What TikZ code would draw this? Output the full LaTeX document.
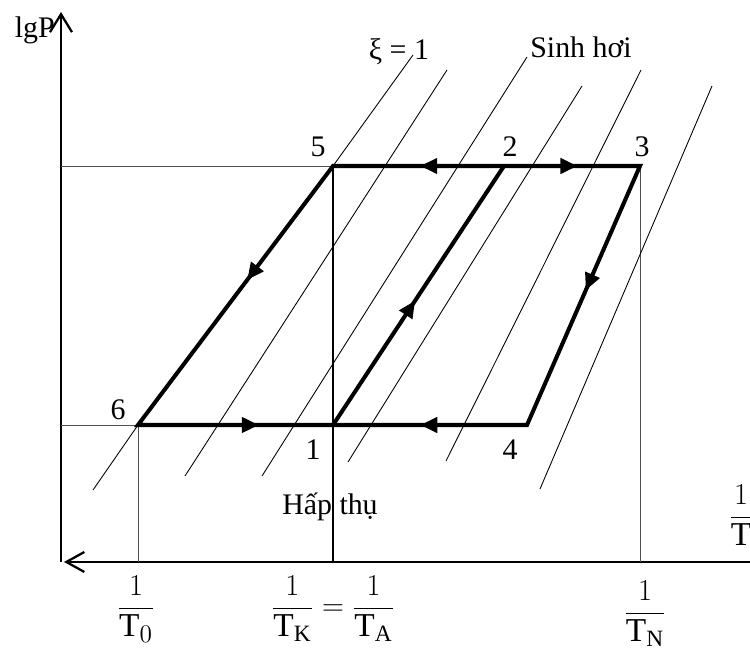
\documentclass[tikz,border=0pt]{standalone}
\usepackage{amsmath}
\usepackage{fontspec}
\setmainfont{Liberation Serif}
\usetikzlibrary{arrows.meta,decorations.markings}
\definecolor{GuideGray}{RGB}{80,80,80}

\begin{document}
\begin{tikzpicture}[x=1cm,y=1cm,
    axis/.style={line width=1.3pt},
    cyc/.style={line width=2.3pt,line join=miter},
    isoline/.style={line width=0.5pt},
    guide/.style={line width=0.55pt,GuideGray},
    midarrow/.style={postaction={decorate},decoration={markings,
      mark=at position #1 with {\arrow{Triangle[length=0.34cm,width=0.3cm]}}}},
    lbl/.style={font=\fontsize{17}{20}\selectfont,inner sep=0pt,anchor=base},
    fraclbl/.style={font=\fontsize{19}{23}\selectfont,inner sep=0pt,anchor=base}]
  \useasboundingbox (-1.22,-1.86) rectangle (13.78,11.24);
  \coordinate (O) at (0,0);
  \coordinate (ytop) at (0,11.0);
  \coordinate (xtip) at (0.06,0);
  \coordinate (xend) at (13.78,0);
  \draw[axis,-{Straight Barb[length=0.36cm,width=0.44cm]}] (O) -- (ytop);
  \draw[axis,-{Straight Barb[length=0.36cm,width=0.4cm]}] (xend) -- (xtip);
  \coordinate (p6) at (1.54,2.74);
  \coordinate (p1) at (5.44,2.74);
  \coordinate (p4) at (9.32,2.74);
  \coordinate (p5) at (5.44,7.92);
  \coordinate (p2) at (8.86,7.92);
  \coordinate (p3) at (11.58,7.92);
  \draw[guide] (O |- p5) -- (p5);
  \draw[guide] (O |- p6) -- (p6) -- (p6 |- O);
  \draw[guide] (p3) -- (p3 |- O);
  \draw[line width=0.9pt] (p5) -- (p5 |- O);
  \draw[isoline] (0.64,1.44) -- (p6) (p5) -- (7.04,10.14);
  \foreach \xa/\ya/\xb/\yb in {2.48/1.72/7.72/9.84, 4.02/1.72/9.32/10.10,
      5.74/2.00/10.42/9.52, 7.70/2.02/11.60/9.84, 9.58/1.46/13.02/9.52}
    \draw[isoline] (\xa,\ya) -- (\xb,\yb);
  \draw[cyc] (p6) -- (p4) -- (p3) -- (p5) -- cycle;
  \draw[cyc] (p1) -- (p2);
  \foreach \s/\e/\p in {p6/p1/0.62, p4/p1/0.55, p2/p5/0.49, p2/p3/0.54,
      p5/p6/0.44, p1/p2/0.48, p3/p4/0.48}
    \path[cyc,midarrow=\p] (\s) -- (\e);
  \node[lbl] (n5) at (5.14,8.10) {5};
  \node[lbl] (n2) at (8.98,8.10) {2};
  \node[lbl] (n3) at (11.62,8.10) {3};
  \node[lbl] (n6) at (1.14,2.84) {6};
  \node[lbl] (n1) at (5.04,2.04) {1};
  \node[lbl] (n4) at (8.98,2.04) {4};
  \node[lbl] (xi) at (6.76,10.04) {ξ = 1};
  \node[lbl] (sinh) at (10.40,10.08) {Sinh hơi};
  \node[lbl] (hap) at (5.38,0.94) {Hấp thụ};
  \node[lbl,anchor=base east] (lgp) at (-0.12,10.48) {lgP};
  \node[fraclbl] (t0) at (1.50,-1.08) {$\dfrac{1}{\mathrm{T}_0}$};
  \node[fraclbl] (tka) at (5.44,-1.08) {$\dfrac{1}{\mathrm{T}_\mathrm{K}}=\dfrac{1}{\mathrm{T}_\mathrm{A}}$};
  \node[fraclbl] (tn) at (11.68,-1.18) {$\dfrac{1}{\mathrm{T}_\mathrm{N}}$};
  \node[fraclbl] (tx) at (13.60,0.74) {$\dfrac{1}{\mathrm{T}}$};
\end{tikzpicture}
\end{document}
